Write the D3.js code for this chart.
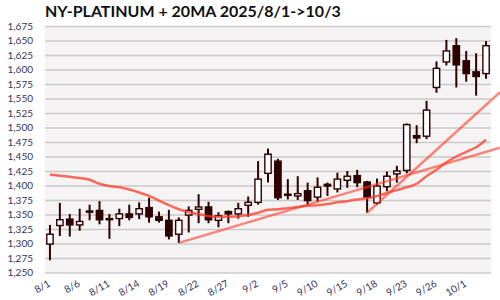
<!DOCTYPE html>
<html>
<head>
<meta charset="utf-8">
<script src="https://cdn.jsdelivr.net/npm/d3@7"></script>
<style>
  body { margin: 0; background: #fff; }
  svg { display: block; }
</style>
</head>
<body>
<svg></svg>
<script>
let dates = ['8/1','8/4','8/5','8/6','8/7','8/8','8/11','8/12','8/13','8/14','8/15','8/18','8/19','8/20','8/21','8/22','8/25','8/26','8/27','8/28','8/29',
             '9/2','9/3','9/4','9/5','9/8','9/9','9/10','9/11','9/12','9/15','9/16','9/17','9/18','9/19','9/22','9/23','9/24','9/25','9/26','9/29','9/30',
             '10/1','10/2','10/3']
let opens  = [1299,1331,1342,1332,1354,1357,1343,1343,1351,1351,1362,1346,1340,1316,1349,1359,1363,1340,1355,1351,1366,
              1371,1421,1442,1383,1382,1391,1380,1402,1394,1409,1417,1406,1370,1398,1420,1426,1486,1485,1569,1613,1641,
              1615,1596,1593]
let highs  = [1332,1370,1351,1360,1367,1373,1351,1360,1367,1371,1379,1355,1358,1345,1364,1385,1372,1354,1357,1370,1381,
              1442,1464,1446,1411,1416,1405,1414,1405,1422,1425,1427,1408,1412,1424,1434,1507,1504,1546,1614,1651,1654,
              1632,1628,1649]
let lows   = [1271,1313,1312,1322,1340,1333,1308,1330,1340,1342,1336,1336,1307,1301,1319,1335,1335,1328,1335,1343,1346,
              1367,1405,1375,1376,1375,1366,1372,1382,1388,1396,1397,1353,1367,1390,1405,1421,1473,1480,1560,1607,1569,
              1579,1555,1584]
let closes = [1316,1341,1332,1338,1356,1341,1341,1351,1345,1360,1346,1340,1313,1340,1357,1363,1341,1348,1351,1360,1371,
              1411,1454,1379,1385,1386,1374,1397,1399,1411,1416,1405,1380,1399,1416,1425,1505,1482,1530,1602,1632,1608,
              1593,1588,1641]
let ma20   = [1419,1417,1415,1413,1410,1403,1399,1397,1393,1388,1382,1374,1366,1359,1354,1351,1347,1346,1346,1347,1349,
              1353,1358,1359,1361,1363,1365,1366,1368,1371,1373,1376,1378,1382,1387,1392,1397,1403,1416,1427,1440,1450,
              1458,1466,1479]

// trend lines: two anchor points each, extended to the right edge
let trendA = [['8/20', 1301], ['10/3', 1458]]
let trendB = [['9/17', 1353], ['10/3', 1539]]

let xTickLabels = ['8/1','8/6','8/11','8/14','8/19','8/22','8/27','9/2','9/5','9/10','9/15','9/18','9/23','9/26','10/1']
let yTicks = d3.range(1250, 1676, 25)

let title = 'NY-PLATINUM + 20MA 2025/8/1->10/3'

let width = 500
let height = 300
let padLeft = 45
let padRight = 491
let padTop = 26
let padBottom = 272.5

let dark = '#2e0000'
let lineColor = '#ff3a2a'

let svg = d3.select('svg')
            .attr('width', width)
            .attr('height', height)

let xScale = d3.scaleBand()
               .domain(dates)
               .range([padLeft, padRight])
               .paddingInner(0.26)
               .paddingOuter(0.13)

let yScale = d3.scaleLinear()
               .domain([1250, 1675])
               .range([padBottom, padTop])

let cx = (d) => xScale(d) + xScale.bandwidth() / 2

// plot background
svg.append('rect')
   .attr('x', padLeft)
   .attr('y', yScale(1675))
   .attr('width', padRight - padLeft)
   .attr('height', yScale(1250) - yScale(1675))
   .attr('fill', '#f5f3f3')

// grid + y labels
let yAxis = d3.axisLeft(yScale)
              .tickValues(yTicks)
              .tickFormat(d3.format(','))
              .tickSize(-(padRight - padLeft))
              .tickPadding(12)

let gy = svg.append('g')
            .attr('transform', 'translate(' + padLeft + ',0)')
            .call(yAxis)
gy.select('.domain').remove()
gy.selectAll('line')
  .attr('stroke', '#cbc9c9')
  .attr('stroke-width', 1.5)
gy.selectAll('text')
  .attr('fill', '#34345a')
  .style('font-family', 'Lato, sans-serif')
  .style('font-size', '10px')

// x labels
let xAxis = d3.axisBottom(xScale)
              .tickValues(xTickLabels)
              .tickSize(0)
let gx = svg.append('g')
            .attr('transform', 'translate(0,' + padBottom + ')')
            .call(xAxis)
gx.select('.domain').remove()
gx.selectAll('text')
  .attr('fill', '#34345a')
  .style('font-family', 'Lato, sans-serif')
  .style('font-size', '10px')
  .attr('text-anchor', 'end')
  .attr('y', 0)
  .attr('dy', 0)
  .attr('transform', 'translate(1,13) rotate(-30)')

// candles
let candles = dates.map((d, i) => ({date: d, open: opens[i], high: highs[i], low: lows[i], close: closes[i]}))

let g = svg.append('g')
g.selectAll('.wick')
 .data(candles)
 .enter()
 .append('line')
 .attr('class', 'wick')
 .attr('x1', (d) => cx(d.date))
 .attr('x2', (d) => cx(d.date))
 .attr('y1', (d) => yScale(d.high))
 .attr('y2', (d) => yScale(d.low))
 .attr('stroke', dark)
 .attr('stroke-width', 2)

g.selectAll('.body')
 .data(candles)
 .enter()
 .append('rect')
 .attr('class', 'body')
 .attr('x', (d) => xScale(d.date) + 0.5)
 .attr('width', xScale.bandwidth() - 1)
 .attr('y', (d) => yScale(Math.max(d.open, d.close)))
 .attr('height', (d) => Math.max(1, Math.abs(yScale(d.open) - yScale(d.close))))
 .attr('fill', (d) => d.close >= d.open ? '#ffffff' : dark)
 .attr('stroke', dark)
 .attr('stroke-width', 1.4)

// 20MA
let maLine = d3.line()
               .x((d, i) => cx(dates[i]))
               .y((d) => yScale(d))
               .curve(d3.curveMonotoneX)

svg.append('path')
   .datum(ma20)
   .attr('d', maLine)
   .attr('fill', 'none')
   .attr('stroke', lineColor)
   .attr('stroke-width', 2.5)
   .attr('stroke-opacity', 0.75)

// trend lines
let drawTrend = (t) => {
    let x1 = cx(t[0][0])
    let x2 = cx(t[1][0])
    let slope = (t[1][1] - t[0][1]) / (x2 - x1)
    let vEnd = t[0][1] + slope * (width - x1)
    svg.append('line')
       .attr('x1', x1)
       .attr('y1', yScale(t[0][1]))
       .attr('x2', width)
       .attr('y2', yScale(vEnd))
       .attr('stroke', lineColor)
       .attr('stroke-width', 2.5)
       .attr('stroke-opacity', 0.6)
}
drawTrend(trendA)
drawTrend(trendB)

// title
svg.append('text')
   .attr('x', 45)
   .attr('y', 17)
   .text(title)
   .attr('fill', '#111')
   .style('font-family', 'Lato, sans-serif')
   .style('font-weight', 'bold')
   .style('font-size', '16px')
</script>
</body>
</html>
